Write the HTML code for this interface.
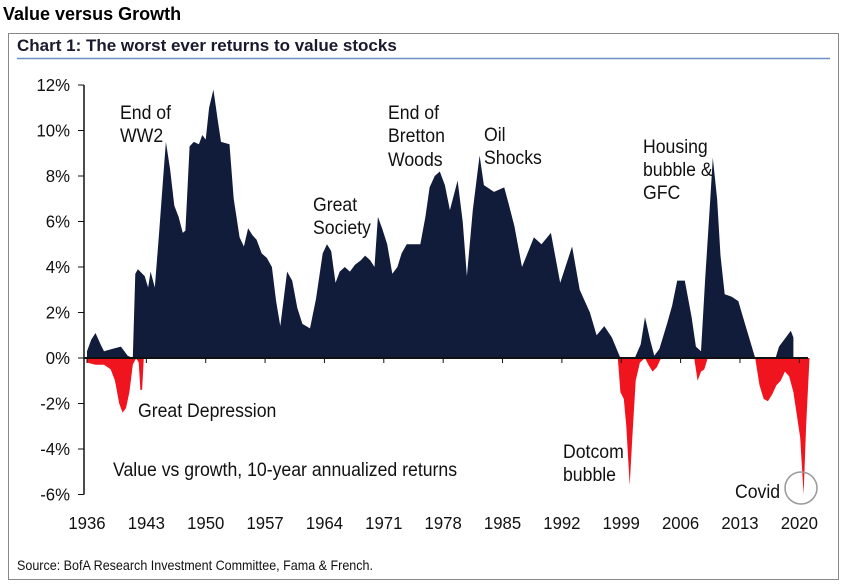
<!DOCTYPE html>
<html><head><meta charset="utf-8"><style>
body{margin:0;background:#fff;width:847px;height:588px;overflow:hidden;font-family:"Liberation Sans",sans-serif}
svg{display:block}
.n,.nr,.nc{font-family:"Liberation Sans",sans-serif;fill:#111;transform-box:fill-box}
.n{transform:scaleX(.93);transform-origin:left}
.nr{transform:scaleX(.93);transform-origin:right}
.nc{transform:scaleX(.93);transform-origin:center}
</style></head><body>
<svg id="c" width="847" height="588">
<text x="3" y="20" font-weight="bold" font-size="18" fill="#000">Value versus Growth</text>
<rect x="8.5" y="33.5" width="830" height="546" fill="none" stroke="#888" stroke-width="1"/>
<text x="17" y="51" font-weight="bold" font-size="17" fill="#1a1a2e">Chart 1: The worst ever returns to value stocks</text>
<line x1="17" y1="58.5" x2="830" y2="58.5" stroke="#6f8fc4" stroke-width="1.5"/>
<g id="plot"></g>
<g font-size="19">
<text class="n" x="120" y="119">End of</text>
<text class="n" x="120" y="142">WW2</text>
<text class="n" x="313" y="211">Great</text>
<text class="n" x="313" y="234">Society</text>
<text class="n" x="388" y="119">End of</text>
<text class="n" x="388" y="142">Bretton</text>
<text class="n" x="388" y="166">Woods</text>
<text class="n" x="484" y="141">Oil</text>
<text class="n" x="484" y="164">Shocks</text>
<text class="n" x="643" y="153">Housing</text>
<text class="n" x="643" y="176">bubble &amp;</text>
<text class="n" x="643" y="199">GFC</text>
<text class="n" x="138" y="417">Great Depression</text>
<text class="n" x="563" y="458">Dotcom</text>
<text class="n" x="563" y="481">bubble</text>
<text class="n" x="113" y="476">Value vs growth, 10-year annualized returns</text>
<text class="n" x="735" y="498">Covid</text>
</g>
<circle cx="801" cy="488" r="16" fill="none" stroke="#999" stroke-width="1.5"/>
<text x="17" y="570" font-size="13.5" fill="#333" class="n">Source:  BofA Research Investment Committee, Fama &amp; French.</text>
</svg>
<script>
const posYears=[1936,1936.5,1937,1937.6,1938,1939,1940,1940.8,1941.4,1941.7,1942,1942.8,1943.2,1943.5,1944,1944.5,1945,1945.3,1945.8,1946.3,1946.8,1947.3,1947.6,1948.1,1948.6,1949.2,1949.6,1950,1950.4,1950.9,1951.4,1951.8,1952.8,1953.3,1954,1954.5,1955,1955.5,1956,1956.6,1957.2,1957.8,1958.3,1958.8,1959.6,1960.2,1960.8,1961.4,1962.3,1963,1963.8,1964.3,1964.8,1965.3,1965.8,1966.4,1967,1967.6,1968.3,1968.8,1969.4,1969.9,1970.3,1970.8,1971.4,1972,1972.6,1973.1,1973.7,1975.3,1975.9,1976.4,1977,1977.6,1978.2,1978.8,1979.7,1980.3,1980.8,1981.5,1982.3,1982.8,1983.2,1984,1985.2,1985.7,1986.4,1987.3,1988.7,1989.6,1990.7,1991.8,1993.2,1994.1,1995.3,1996.1,1997,1997.9,1998.9,1999.9,2000.6,2001.3,2001.8,2002.4,2002.9,2003.5,2004.4,2005,2005.6,2006.5,2007.3,2007.8,2008.4,2008.9,2009.5,2009.8,2010.3,2010.7,2011.2,2012,2012.8,2013.6,2014.8,2017.2,2017.6,2018.4,2019,2019.3];
const posVals=[0.3,0.8,1.1,0.6,0.3,0.4,0.5,0.1,0,3.7,3.9,3.6,3.1,3.8,3.1,5.5,8,9.5,8.3,6.7,6.2,5.5,5.6,9.3,9.5,9.4,9.8,9.6,11,11.8,10.5,9.5,9.4,7,5.3,4.9,5.7,5.4,5.2,4.6,4.4,4.0,2.5,1.4,3.8,3.4,2.2,1.5,1.3,2.6,4.6,5.0,4.7,3.3,3.8,4.0,3.8,4.1,4.3,4.5,4.3,4.0,6.2,5.7,5.0,3.7,4.0,4.6,5.0,5.0,6.2,7.5,8.0,8.2,7.6,6.5,7.8,6.0,3.6,6.5,8.9,7.6,7.5,7.3,7.5,6.8,5.8,4.0,5.3,5.0,5.5,3.3,4.9,3.0,2.0,1.0,1.4,0.9,0,0,0,0.6,1.8,0.8,0.1,0.4,1.5,2.3,3.4,3.4,1.8,0.5,0.3,3.5,7.0,8.8,7.0,4.5,2.8,2.7,2.5,1.5,0,0,0.5,0.9,1.2,0.9,0];
const negYears=[1936,1937,1938,1938.8,1939.3,1939.8,1940.2,1940.6,1941,1941.4,1941.8,1942.1,1942.3,1942.5,1942.7,1998.6,1998.9,1999.3,1999.6,2000,2000.3,2000.7,2001.2,2001.8,2002.2,2002.7,2003.2,2003.7,2007.6,2008,2008.4,2008.8,2009.2,2014.8,2015.3,2015.8,2016.3,2016.8,2017.3,2017.8,2018.3,2018.8,2019.3,2019.7,2020.1,2020.5,2020.8,2021.2];
const negVals=[-0.2,-0.3,-0.3,-0.5,-1.0,-2.0,-2.4,-2.2,-1.5,-0.3,0,-0.2,-1.4,-1.4,0,0,-1.5,-1.8,-3.0,-5.6,-3.5,-1.0,-0.2,0,-0.3,-0.6,-0.4,0,0,-1.0,-0.6,-0.5,0,0,-1.2,-1.8,-1.9,-1.6,-1.2,-1.0,-0.6,-0.8,-1.5,-2.5,-3.5,-6.0,-3.0,0];
const yTicks=[12,10,8,6,4,2,0,-2,-4,-6];
const xTicks=[1936,1943,1950,1957,1964,1971,1978,1985,1992,1999,2006,2013,2020];
const X=yr=>87+(yr-1936)*8.48;
const Y=v=>358-v*22.75;
const NS='http://www.w3.org/2000/svg';
const g=document.getElementById('plot');
function mk(t,a){const e=document.createElementNS(NS,t);for(const k in a)e.setAttribute(k,a[k]);g.appendChild(e);return e;}
function area(xs,vs,col,name){let d='M'+X(xs[0])+','+Y(0);xs.forEach((x,i)=>{d+=' L'+X(x).toFixed(1)+','+Y(vs[i]).toFixed(1);});d+=' L'+X(xs[xs.length-1])+','+Y(0)+'Z';
const p=mk('path',{d:d,fill:col});

}
area(posYears,posVals,'#111c3a','positive-returns-area');
area(negYears,negVals,'#f0141e','negative-returns-area');
const ax=mk('line',{x1:84,y1:Y(12),x2:84,y2:Y(-6),stroke:'#111','stroke-width':1.5});


const x0=mk('line',{x1:84,y1:Y(0),x2:808,y2:Y(0),stroke:'#111','stroke-width':2});


yTicks.forEach(v=>{mk('line',{x1:78,y1:Y(v),x2:84,y2:Y(v),stroke:'#111'});
const t=mk('text',{x:70,y:Y(v)+6,'text-anchor':'end','font-size':18,class:'nr'});t.textContent=v+'%';

});
xTicks.forEach(yr=>{mk('line',{x1:X(yr),y1:Y(0),x2:X(yr),y2:Y(0)+5,stroke:'#111'});
const t=mk('text',{x:X(yr),y:529,'text-anchor':'middle','font-size':18,class:'nc'});t.textContent=yr;

});
</script>
</body></html>
